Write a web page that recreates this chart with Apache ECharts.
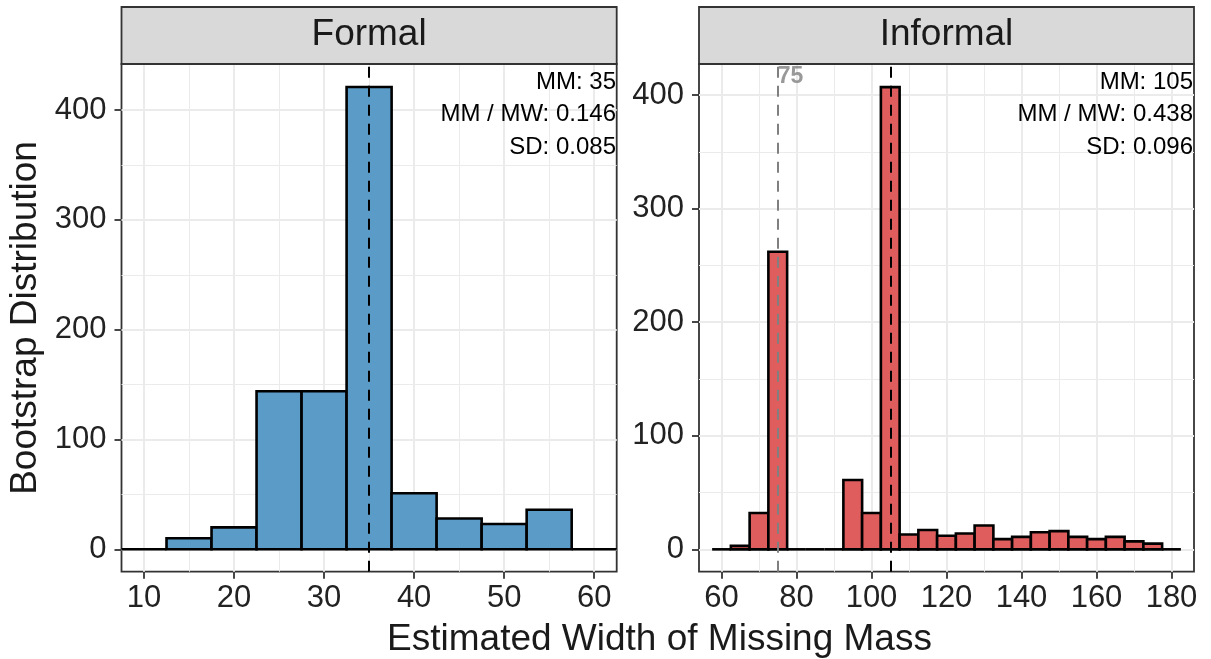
<!DOCTYPE html>
<html>
<head>
<meta charset="utf-8">
<script src="https://cdn.jsdelivr.net/npm/echarts@6/dist/echarts.min.js"></script>
<style>
html, body { margin: 0; padding: 0; background: #fff; }
#main { width: 1211px; height: 659px; }
</style>
</head>
<body>
<div id="main"></div>
<script>
// histogram bins (centre of each bin, width 5) and counts
var binWidth = 5;
var formalBins = [10, 15, 20, 25, 30, 35, 40, 45, 50, 55, 60];
var formalCounts = [0, 10, 20, 144, 144, 421, 51, 28, 23, 36, 0];
var informalBins = [60, 65, 70, 75, 80, 85, 90, 95, 100, 105, 110, 115, 120,
                    125, 130, 135, 140, 145, 150, 155, 160, 165, 170, 175, 180];
var informalCounts = [0, 3, 32, 262, 0, 0, 0, 61, 32, 407, 13, 17, 12,
                      14, 21, 9, 11, 15, 16, 11, 9, 11, 7, 5, 0];

// tick labels / grid positions
var formalTicksX = [10, 20, 30, 40, 50, 60];
var formalMinorX = [15, 25, 35, 45, 55];
var informalTicksX = [60, 80, 100, 120, 140, 160, 180];
var informalMinorX = [70, 90, 110, 130, 150, 170];
var countTicks = [0, 100, 200, 300, 400];
var countMinor = [50, 150, 250, 350];

// reference lines and stats
var formalMM = 35;
var informalMM = 105;
var informalRef = 75;
var informalRefLabelY = 416;
var formalStats = ['MM: 35', 'MM / MW: 0.146', 'SD: 0.085'];
var informalStats = ['MM: 105', 'MM / MW: 0.438', 'SD: 0.096'];

var FONT = 'Liberation Sans, Arial, Helvetica, sans-serif';
var BAR_LW = 2.6;
var myChart = echarts.init(document.getElementById('main'));

function pairs(xs, ys) {
    return xs.map(function (x, i) { return [x, ys[i]]; });
}

function histSeries(idx, bins, counts, fill) {
    return {
        type: 'custom',
        xAxisIndex: idx,
        yAxisIndex: idx,
        z: 3,
        silent: true,
        data: pairs(bins, counts),
        renderItem: function (params, api) {
            var c = api.value(0), n = api.value(1);
            var p0 = api.coord([c - binWidth / 2, n]);
            var p1 = api.coord([c + binWidth / 2, 0]);
            if (n === 0) {
                // empty bin: ggplot still draws its outline as a flat line
                return {
                    type: 'line',
                    shape: { x1: p0[0], y1: p1[1], x2: p1[0], y2: p1[1] },
                    style: { stroke: '#000', lineWidth: BAR_LW }
                };
            }
            return {
                type: 'rect',
                shape: { x: p0[0], y: p0[1], width: p1[0] - p0[0], height: p1[1] - p0[1] },
                style: { fill: fill, stroke: '#000', lineWidth: BAR_LW }
            };
        }
    };
}

function gridSeries(idx, majorX, minorX, majorY, minorY) {
    var d = [];
    minorX.forEach(function (v) { d.push({ xAxis: v, lineStyle: { color: '#EBEBEB', width: 1, type: 'solid' } }); });
    minorY.forEach(function (v) { d.push({ yAxis: v, lineStyle: { color: '#EBEBEB', width: 1, type: 'solid' } }); });
    majorX.forEach(function (v) { d.push({ xAxis: v, lineStyle: { color: '#EBEBEB', width: 2, type: 'solid' } }); });
    majorY.forEach(function (v) { d.push({ yAxis: v, lineStyle: { color: '#EBEBEB', width: 2, type: 'solid' } }); });
    return {
        type: 'line',
        xAxisIndex: idx,
        yAxisIndex: idx,
        data: [],
        z: 1,
        silent: true,
        markLine: { z: 1, silent: true, symbol: 'none', animation: false, label: { show: false }, data: d }
    };
}

function vlineSeries(idx, x, color) {
    return {
        type: 'line',
        xAxisIndex: idx,
        yAxisIndex: idx,
        data: [],
        z: 6,
        silent: true,
        markLine: {
            z: 6, silent: true, symbol: 'none', animation: false, label: { show: false },
            data: [{ xAxis: x, lineStyle: { color: color, width: 2, type: [11, 8] } }]
        }
    };
}

function xAxisOf(idx, min, max, ticks) {
    return {
        type: 'value', gridIndex: idx, min: min, max: max,
        axisLine: { show: false, onZero: false },
        splitLine: { show: false },
        axisTick: { show: true, length: 7, customValues: ticks, lineStyle: { color: '#333', width: 1.8 } },
        axisLabel: { customValues: ticks, fontSize: 31, color: '#222', margin: 11, fontFamily: FONT }
    };
}

function yAxisOf(idx, min, max) {
    return {
        type: 'value', gridIndex: idx, min: min, max: max,
        axisLine: { show: false, onZero: false },
        splitLine: { show: false },
        axisTick: { show: true, length: 7, customValues: countTicks, lineStyle: { color: '#333', width: 1.8 } },
        axisLabel: { customValues: countTicks, fontSize: 31, color: '#222', margin: 15, fontFamily: FONT }
    };
}

function statTexts(right, lines) {
    var ys = [82, 114.5, 147];
    return lines.map(function (t, i) {
        return {
            type: 'text', x: right, y: ys[i], z: 100,
            style: { text: t, fontSize: 24, fontFamily: FONT, fill: '#000', textAlign: 'right', textVerticalAlign: 'middle' }
        };
    });
}

function strip(left, width, label) {
    return [
        { type: 'rect', shape: { x: left, y: 7, width: width, height: 57 }, z: 50,
          style: { fill: '#D9D9D9', stroke: '#333', lineWidth: 1.8 } },
        { type: 'text', x: left + width / 2, y: 34.5, z: 51,
          style: { text: label, fontSize: 37, fontFamily: FONT, fill: '#1A1A1A', textAlign: 'center', textVerticalAlign: 'middle' } }
    ];
}

var option = {
    backgroundColor: '#fff',
    animation: false,
    grid: [
        { left: 121.5, top: 64, width: 495.2, height: 507.7, show: true, backgroundColor: '#fff', borderColor: '#333', borderWidth: 1.8 },
        { left: 699, top: 64, width: 495, height: 507.7, show: true, backgroundColor: '#fff', borderColor: '#333', borderWidth: 1.8 }
    ],
    xAxis: [
        xAxisOf(0, 7.5, 62.5, formalTicksX),
        xAxisOf(1, 54, 186, informalTicksX)
    ],
    yAxis: [
        yAxisOf(0, -20.4, 442),
        yAxisOf(1, -19.7, 427.4)
    ],
    series: [
        gridSeries(0, formalTicksX, formalMinorX, countTicks, countMinor),
        gridSeries(1, informalTicksX, informalMinorX, countTicks, countMinor),
        histSeries(0, formalBins, formalCounts, '#5A9BC8'),
        histSeries(1, informalBins, informalCounts, '#E05D5E'),
        vlineSeries(0, formalMM, '#000'),
        vlineSeries(1, informalRef, '#808080'),
        vlineSeries(1, informalMM, '#000'),
        {
            type: 'scatter', xAxisIndex: 1, yAxisIndex: 1, z: 7, silent: true,
            symbolSize: 0,
            data: [[informalRef, informalRefLabelY]],
            label: {
                show: true, position: 'right', distance: 0, formatter: String(informalRef),
                color: '#808080', fontWeight: 'bold', fontSize: 23, fontFamily: FONT
            }
        }
    ],
    graphic: [].concat(
        strip(121.5, 495.2, 'Formal'),
        strip(699, 495, 'Informal'),
        statTexts(616, formalStats),
        statTexts(1193, informalStats),
        [
            { type: 'text', x: 25.5, y: 318, rotation: Math.PI / 2,
              style: { text: 'Bootstrap Distribution', fontSize: 37, fontFamily: FONT, fill: '#1A1A1A', textAlign: 'center', textVerticalAlign: 'middle' } },
            { type: 'text', x: 659.5, y: 640,
              style: { text: 'Estimated Width of Missing Mass', fontSize: 37, fontFamily: FONT, fill: '#1A1A1A', textAlign: 'center', textVerticalAlign: 'middle' } }
        ]
    )
};

myChart.setOption(option);
</script>
</body>
</html>
